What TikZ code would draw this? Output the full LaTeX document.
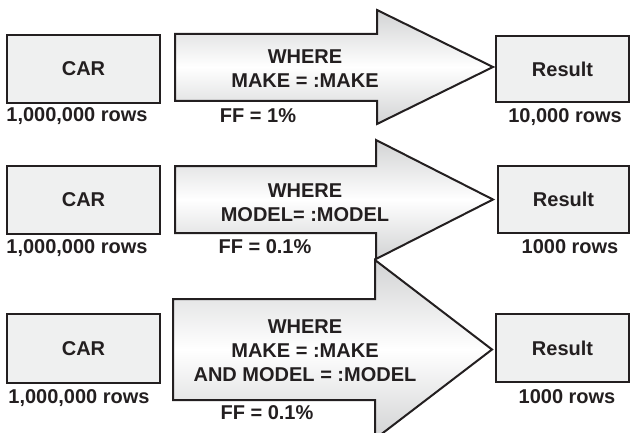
\documentclass[tikz,border=0pt]{standalone}
\usepackage{fontspec}
\setmainfont{Liberation Sans}
\definecolor{inkc}{HTML}{231F20}
\definecolor{boxfill}{HTML}{EFF0F0}
\definecolor{shadeedge}{HTML}{D2D3D4}
\begin{document}
\begin{tikzpicture}[x=1pt,y=-1pt,
  ink/.style={draw=inkc, line width=2pt},
  tablebox/.style={ink, fill=boxfill, inner sep=0pt, anchor=north west,
    text=inkc, font=\bfseries\fontsize{20}{24}\selectfont},
  lbl/.style={text=inkc, font=\bfseries\fontsize{20}{24}\selectfont, inner sep=0pt},
  flow/.style={ink, line join=miter, top color=shadeedge, bottom color=shadeedge, middle color=white},
]
\useasboundingbox (0,0) rectangle (631,433);
\clip (0,0) rectangle (631,433);

% ---- row 1: filter on MAKE
\node[tablebox, minimum width=153pt, minimum height=68pt] (car1) at (6,34) {CAR};
\draw[flow] (175,34) -- (377,34) -- (377,10) -- (493,67) -- (377,124) -- (377,101) -- (175,101) -- cycle;
\node[lbl, align=center] (cond1) at (305,69) {WHERE\\MAKE = :MAKE};
\node[tablebox, minimum width=133pt, minimum height=66pt] (res1) at (495,35) {Result};
\node[lbl] (rows1) at (77,116) {1,000,000 rows};
\node[lbl] (ff1) at (258,116) {FF = 1\%};
\node[lbl] (out1) at (565,117) {10,000 rows};

% ---- row 2: filter on MODEL
\node[tablebox, minimum width=153pt, minimum height=68pt] (car2) at (6,165) {CAR};
\draw[flow] (175,166) -- (376,166) -- (376,140) -- (493,199.5) -- (376,259) -- (376,233) -- (175,233) -- cycle;
\node[lbl, align=center] (cond2) at (305,202.5) {WHERE\\MODEL= :MODEL};
\node[tablebox, minimum width=131pt, minimum height=67pt] (res2) at (497,165) {Result};
\node[lbl] (rows2) at (77,248) {1,000,000 rows};
\node[lbl] (ff2) at (265,247) {FF = 0.1\%};
\node[lbl] (out2) at (570,247) {1000 rows};

% ---- row 3: filter on MAKE and MODEL
\node[tablebox, minimum width=153pt, minimum height=69pt] (car3) at (6,313) {CAR};
\draw[flow] (173,299) -- (375,299) -- (375,260) -- (492,349.5) -- (375,439) -- (375,400) -- (173,400) -- cycle;
\node[lbl, align=center] (cond3) at (305,351) {WHERE\\MAKE = :MAKE\\AND MODEL = :MODEL};
\node[tablebox, minimum width=133pt, minimum height=68pt] (res3) at (495,313) {Result};
\node[lbl] (rows3) at (79,398) {1,000,000 rows};
\node[lbl] (ff3) at (267,413) {FF = 0.1\%};
\node[lbl] (out3) at (567,397) {1000 rows};
\end{tikzpicture}
\end{document}
